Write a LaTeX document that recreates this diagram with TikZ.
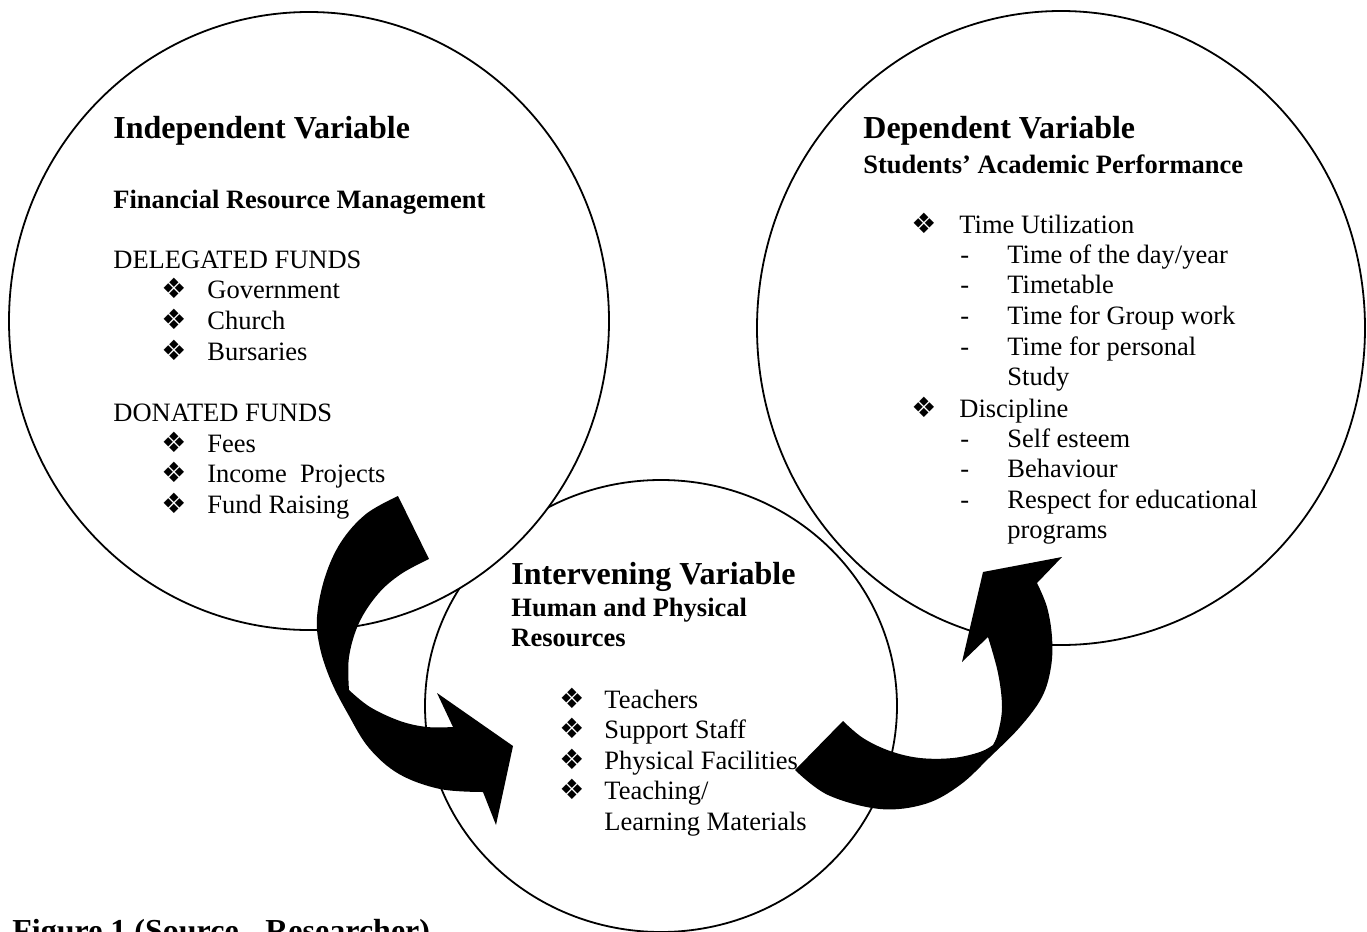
\documentclass[tikz,border=0pt]{standalone}
\usepackage{fontspec}
\setmainfont{Liberation Serif}
\newfontfamily\symfont{DejaVu Sans}
\usetikzlibrary{shapes.geometric}
\begin{document}
\begin{tikzpicture}[x=0.5pt,y=-0.5pt,
  circ/.style={ellipse, draw, line width=0.9pt, fill=white, inner sep=0pt},
  txt/.style={anchor=base west, inner sep=0pt, font=\fontsize{13.25}{15}\selectfont},
  hd/.style={anchor=base west, inner sep=0pt, font=\fontsize{16}{19}\selectfont\bfseries},
  sub/.style={anchor=base west, inner sep=0pt, font=\fontsize{13.25}{15}\selectfont\bfseries},
  bul/.style={anchor=base west, inner sep=0pt, font=\fontsize{14}{16}\symfont},
  blk/.style={fill=black, draw=none}]
\useasboundingbox (0,0) rectangle (1367,932);
% circles
\node[circ, minimum width=236pt, minimum height=226pt] (mid) at (661,706) {};
\node[circ, minimum width=304pt, minimum height=317pt] (dep) at (1061,328) {};
\node[circ, minimum width=300pt, minimum height=309pt] (ind) at (309,321) {};
% left circle text
\node[hd]  (l1) at (113,138) {Independent Variable};
\node[sub] (l2) at (113,208) {Financial Resource Management};
\node[txt] (l3) at (113,268) {DELEGATED FUNDS};
\node[bul] (lb1) at (161,298) {❖}; \node[txt] (l4) at (207,298) {Government};
\node[bul] (lb2) at (161,329) {❖}; \node[txt] (l5) at (207,329) {Church};
\node[bul] (lb3) at (161,360) {❖}; \node[txt] (l6) at (207,360) {Bursaries};
\node[txt] (l7) at (113,421) {DONATED FUNDS};
\node[bul] (lb4) at (161,452) {❖}; \node[txt] (l8) at (207,452) {Fees};
\node[bul] (lb5) at (161,482) {❖}; \node[txt] (l9) at (207,482) {Income\ \ Projects};
\node[bul] (lb6) at (161,513) {❖}; \node[txt] (l10) at (207,513) {Fund Raising};
% right circle text
\node[hd]  (r1) at (863,138) {Dependent Variable};
\node[sub] (r2) at (863,173) {Students’ Academic Performance};
\node[bul] (rb1) at (911,233) {❖}; \node[txt] (r3) at (959,233) {Time Utilization};
\node[txt] (rd1) at (960,263) {-}; \node[txt] (r4) at (1007,263) {Time of the day/year};
\node[txt] (rd2) at (960,293) {-}; \node[txt] (r5) at (1007,293) {Timetable};
\node[txt] (rd3) at (960,324) {-}; \node[txt] (r6) at (1007,324) {Time for Group work};
\node[txt] (rd4) at (960,355) {-}; \node[txt] (r7) at (1007,355) {Time for personal};
\node[txt] (r8) at (1007,385) {Study};
\node[bul] (rb2) at (911,417) {❖}; \node[txt] (r9) at (959,417) {Discipline};
\node[txt] (rd5) at (960,447) {-}; \node[txt] (r10) at (1007,447) {Self esteem};
\node[txt] (rd6) at (960,477) {-}; \node[txt] (r11) at (1007,477) {Behaviour};
\node[txt] (rd7) at (960,508) {-}; \node[txt] (r12) at (1007,508) {Respect for educational};
\node[txt] (r13) at (1007,538) {programs};
% middle circle text
\node[hd]  (m1) at (511,584) {Intervening Variable};
\node[sub] (m2) at (511,616) {Human and Physical};
\node[sub] (m3) at (511,646) {Resources};
\node[bul] (mb1) at (559,708) {❖}; \node[txt] (m4) at (604,708) {Teachers};
\node[bul] (mb2) at (559,738) {❖}; \node[txt] (m5) at (604,738) {Support Staff};
\node[bul] (mb3) at (559,769) {❖}; \node[txt] (m6) at (604,769) {Physical Facilities};
\node[bul] (mb4) at (559,799) {❖}; \node[txt] (m7) at (604,799) {Teaching/};
\node[txt] (m8) at (604,830) {Learning Materials};
% caption
\node[hd] (cap) at (12,941) {Figure 1 (Source - Researcher)};
% left curved arrow
\fill[blk] (398,496) -- plot[smooth, tension=0.6] coordinates {(398,496) (366,514) (341,542) (325,577) (317,617) (320,648) (331,681) (348,714) (369,748) (399,774) (440,789) (483,792)}
  -- (496,825) -- (513,746) -- (437,693) -- (453,727)
  -- plot[smooth, tension=0.6] coordinates {(453,727) (427,727) (400,721) (370,707) (349,690)}
  -- plot[smooth, tension=0.6] coordinates {(349,690) (349,657) (359,623) (378,594) (401,574) (429,559)}
  -- cycle;
% right curved arrow
\fill[blk] (795,770) -- plot[smooth, tension=0.6] coordinates {(795,770) (828,795) (880,809) (925,804) (960,785) (990,757) (1020,727) (1042,697) (1051,667) (1052,637) (1047,607) (1037,583)}
  -- (1062,557) -- (983,572) -- (962,662) -- (988,637)
  -- plot[smooth, tension=0.6] coordinates {(988,637) (998,673) (1002,707) (998,733) (993,745)}
  -- plot[smooth, tension=0.6] coordinates {(993,745) (980,752) (953,758) (920,758) (890,751) (863,738) (843,721)}
  -- cycle;
\end{tikzpicture}
\end{document}
